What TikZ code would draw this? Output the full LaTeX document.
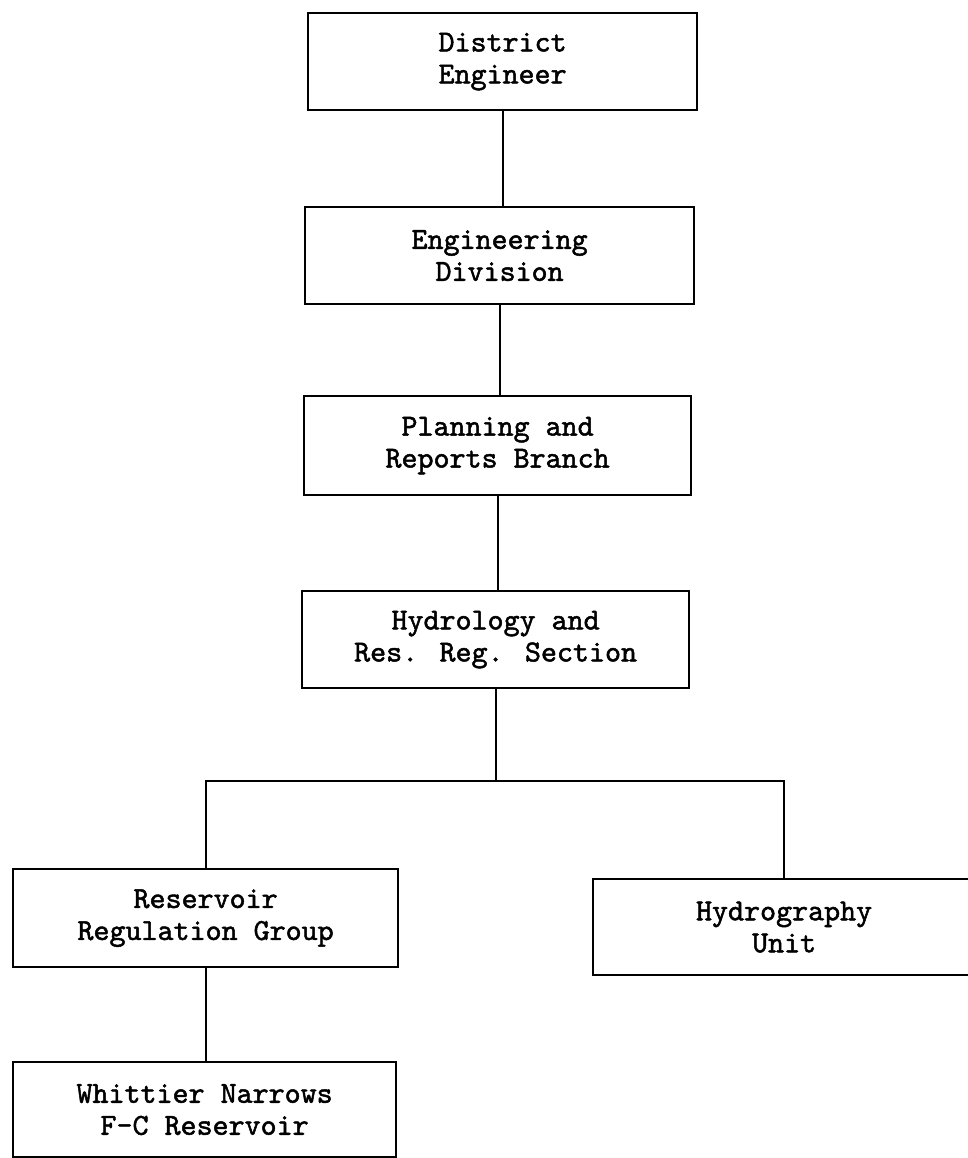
\documentclass[tikz,border=0pt]{standalone}
\usepackage{fontspec}
\newfontfamily\twfont{lmmono10-regular.otf}[FakeBold=1.6]
\begin{document}
\begin{tikzpicture}[x=1pt,y=-1pt,
  box/.style={draw, line width=2.2pt, rectangle, inner sep=0pt, align=center,
    font=\twfont\fontsize{30.5}{32}\selectfont, anchor=north west},
  conn/.style={line width=2pt}]
\useasboundingbox (0,0) rectangle (967,1158);
\node[box, minimum width=389pt, minimum height=97pt] (de) at (307,12) {District\\Engineer};
\node[box, minimum width=389pt, minimum height=97pt] (ed) at (304,206) {Engineering\\Division};
\node[box, minimum width=387pt, minimum height=99pt] (pr) at (303,395) {Planning and\\Reports Branch};
\node[box, minimum width=387pt, minimum height=97pt] (hr) at (301,590) {Hydrology and\\Res. Reg. Section};
\node[box, minimum width=385pt, minimum height=98pt] (rr) at (12,868) {Reservoir\\Regulation Group};
\node[box, minimum width=382pt, minimum height=96pt] (hu) at (592,878) {Hydrography\\Unit};
\node[box, minimum width=383pt, minimum height=95pt] (wn) at (12,1061) {Whittier Narrows\\F-C Reservoir};
\coordinate (bus) at (494,781);
\draw[conn] (de.south) -- (de.south |- ed.north);
\draw[conn] (ed.south) -- (ed.south |- pr.north);
\draw[conn] (pr.south) -- (pr.south |- hr.north);
\draw[conn] (hr.south) -- (hr.south |- bus);
\draw[conn] (rr.north) -- (rr.north |- bus) -- (hu.north |- bus) -- (hu.north);
\draw[conn] (rr.south) -- (rr.south |- wn.north);
\end{tikzpicture}
\end{document}
